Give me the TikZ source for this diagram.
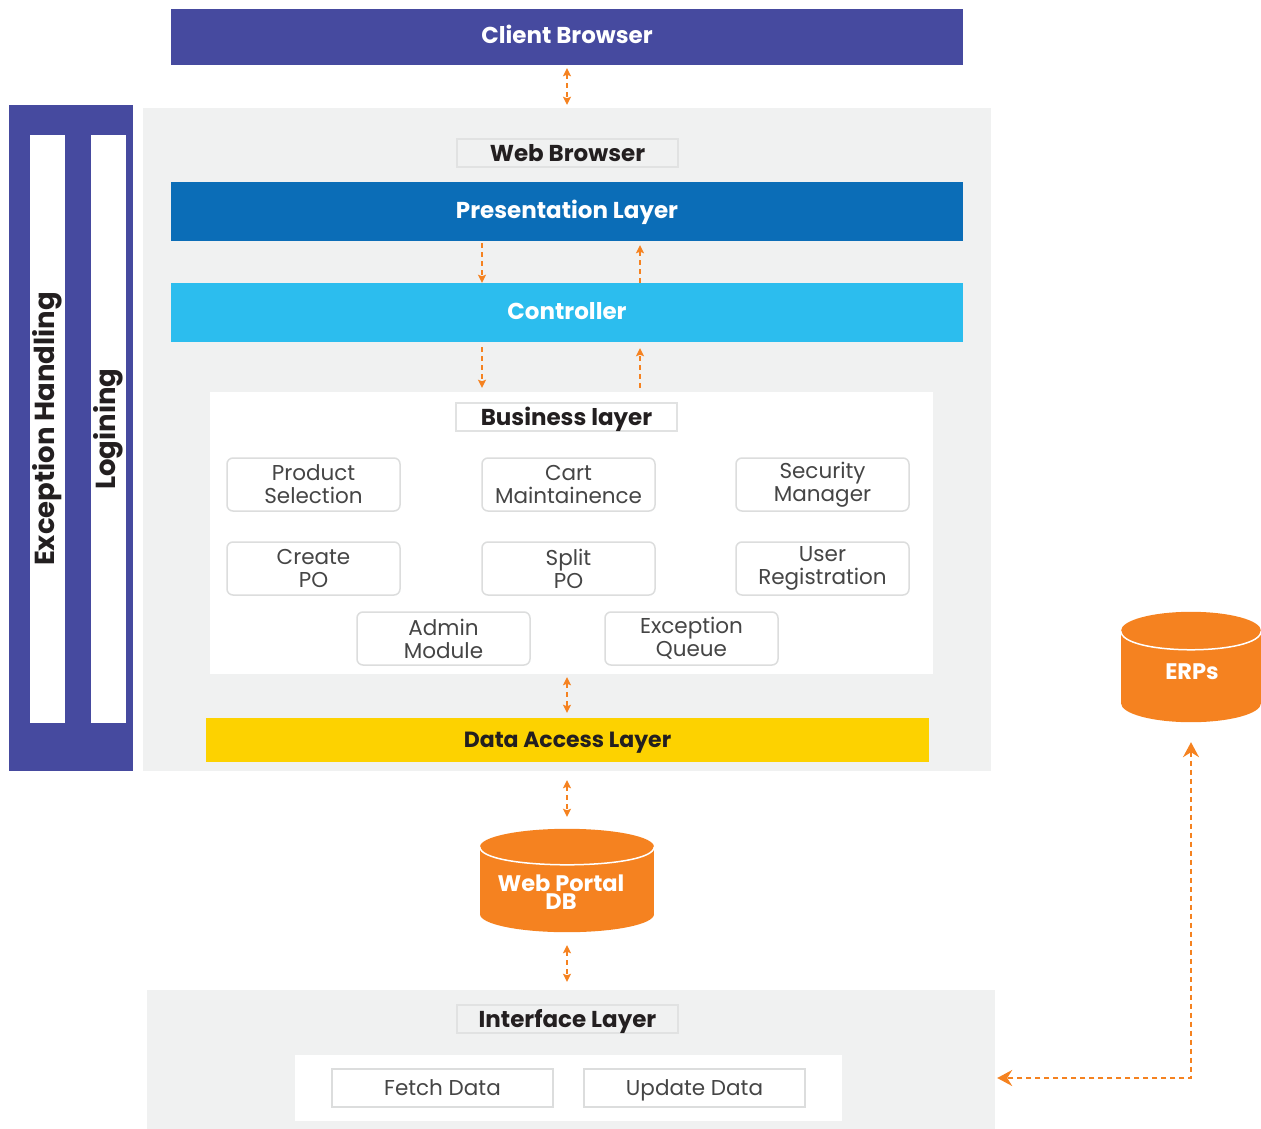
\documentclass[tikz,border=0pt]{standalone}
\usepackage{fontspec}
\setmainfont{Poppins}
\usetikzlibrary{arrows.meta,calc}
\definecolor{indigo}{HTML}{464A9F}
\definecolor{presblue}{HTML}{0B6DB7}
\definecolor{ctrlblue}{HTML}{2CBDEE}
\definecolor{dalyellow}{HTML}{FDD200}
\definecolor{orangeA}{HTML}{F58220}
\definecolor{panelgray}{HTML}{F0F1F1}
\definecolor{lblborder}{HTML}{E1E2E2}
\definecolor{modborder}{HTML}{DCDDDD}
\definecolor{textdark}{HTML}{231F20}
\definecolor{modtext}{HTML}{454545}
\begin{document}
\begin{tikzpicture}[x=1pt,y=-1pt,
  band/.style={rectangle, inner sep=0pt, font=\bfseries\fontsize{23}{24}\selectfont, text=white, text height=13.5pt, text depth=0pt},
  panel/.style={rectangle, inner sep=0pt, fill=panelgray},
  lbl/.style={rectangle, draw=lblborder, line width=1.5pt, inner sep=0pt, minimum width=221pt, minimum height=28pt, font=\bfseries\fontsize{23}{24}\selectfont, text=textdark, text height=16pt, text depth=0pt},
  mod/.style={rectangle, rounded corners=6pt, draw=modborder, line width=1.5pt, fill=white, minimum width=173pt, minimum height=53pt, inner sep=0pt, align=center, font=\fontsize{21.5}{23}\selectfont, text=modtext},
  iface/.style={rectangle, draw=modborder, line width=1.5pt, fill=white, minimum width=221pt, minimum height=38pt, inner sep=0pt, font=\fontsize{21.5}{24}\selectfont, text=modtext, text height=15pt, text depth=0pt},
  dsh/.style={draw=orangeA, line width=1.8pt, dash pattern=on 5pt off 4pt},
  dbl/.style={dsh, {Stealth[width=8pt,length=8pt,inset=1.5pt]}-{Stealth[width=8pt,length=8pt,inset=1.5pt]}},
  sgl/.style={dsh, -{Stealth[width=8pt,length=8pt,inset=1.5pt]}},
  bigdbl/.style={dsh, {Stealth[width=16pt,length=15pt,inset=5pt]}-{Stealth[width=16pt,length=15pt,inset=5pt]}}
]
\useasboundingbox (0,0) rectangle (1261,1129);

% client
\node[band, fill=indigo, minimum width=792pt, minimum height=56pt] (client) at (567,37) {Client Browser};

% left side
\node[rectangle, fill=indigo, minimum width=124pt, minimum height=666pt, inner sep=0pt] (side) at (71,438) {};
\node[rectangle, fill=white, minimum width=35pt, minimum height=588pt, inner sep=0pt] (bar1) at (47.5,429) {};
\node[rectangle, fill=white, minimum width=35pt, minimum height=588pt, inner sep=0pt] (bar2) at (108.5,429) {};
\node[rotate=90, font=\bfseries\fontsize{27.5}{28}\selectfont, text=textdark] (exc) at (47,429) {Exception Handling};
\node[rotate=90, font=\bfseries\fontsize{27.5}{28}\selectfont, text=textdark] (log) at (108,429) {Logining};

% main gray panel
\node[panel, minimum width=848pt, minimum height=663pt] (gray) at (567,439.5) {};
\node[lbl, fill=panelgray] (web) at (567.5,153) {Web Browser};
\node[band, fill=presblue, minimum width=792pt, minimum height=59pt] (pres) at (567,211.5) {Presentation Layer};
\node[band, fill=ctrlblue, minimum width=792pt, minimum height=59pt] (ctrl) at (567,312.5) {Controller};

% business
\node[rectangle, fill=white, minimum width=723pt, minimum height=282pt, inner sep=0pt] (biz) at (571.5,533) {};
\node[lbl, fill=white] (bizl) at (566.5,417) {Business layer};
\node[mod] (m1) at (313.5,484.5) {Product\\Selection};
\node[mod] (m2) at (568.5,484.5) {Cart\\Maintainence};
\node[mod] (m3) at (822.5,484.5) {Security\\Manager};
\node[mod] (m4) at (313.5,568.5) {Create\\PO};
\node[mod] (m5) at (568.5,568.5) {Split\\PO};
\node[mod] (m6) at (822.5,568.5) {User\\Registration};
\node[mod] (m7) at (443.5,638.5) {Admin\\Module};
\node[mod] (m8) at (691.5,638.5) {Exception\\Queue};

% data access
\node[band, fill=dalyellow, text=textdark, minimum width=723pt, minimum height=44pt, font=\bfseries\fontsize{22}{24}\selectfont, text height=15pt] (dal) at (567.5,740) {Data Access Layer};

% DB cylinder
\node[rectangle, minimum width=174pt, minimum height=103pt, inner sep=0pt] (db) at (567,880.5) {};
\fill[orangeA] ($(db.north west)+(0,18)$) rectangle ($(db.south east)+(0,-18)$);
\fill[orangeA] ($(db.north)+(0,18)$) ellipse [x radius=87pt, y radius=18pt];
\fill[orangeA] ($(db.south)+(0,-18)$) ellipse [x radius=87pt, y radius=18pt];
\draw[white, line width=1.5pt] ($(db.north west)+(0,18)$) .. controls +(0,24) and +(0,24) .. ($(db.north east)+(0,18)$);
\node[font=\bfseries\fontsize{22.5}{18.5}\selectfont, text=white, align=center] (dbt) at (561,892) {Web Portal\\DB};

% ERPs cylinder
\node[rectangle, minimum width=140pt, minimum height=110pt, inner sep=0pt] (erp) at (1191,667) {};
\fill[orangeA] ($(erp.north west)+(0,19)$) rectangle ($(erp.south east)+(0,-19)$);
\fill[orangeA] ($(erp.north)+(0,19)$) ellipse [x radius=70pt, y radius=19pt];
\fill[orangeA] ($(erp.south)+(0,-19)$) ellipse [x radius=70pt, y radius=19pt];
\draw[white, line width=1.5pt] ($(erp.north west)+(0,19)$) .. controls +(0,25.3) and +(0,25.3) .. ($(erp.north east)+(0,19)$);
\node[font=\bfseries\fontsize{22.5}{24}\selectfont, text=white] (erpt) at (1192,672) {ERPs};

% interface
\node[panel, minimum width=848pt, minimum height=140pt] (ifp) at (571,1060) {};
\node[lbl, fill=panelgray] (ifl) at (567.5,1019) {Interface Layer};
\node[rectangle, fill=white, minimum width=547pt, minimum height=66pt, inner sep=0pt] (ifw) at (568.5,1088) {};
\node[iface] (fetch) at (442.5,1088) {Fetch Data};
\node[iface] (upd) at (694.5,1088) {Update Data};

% connectors
\coordinate (xL) at (482,0);
\coordinate (xR) at (640,0);
\coordinate (xM) at (567,0);
\coordinate (turn) at (1191,1078);
\draw[dbl, shorten <=3pt, shorten >=3pt] (client.south) -- (gray.north);
\draw[sgl, shorten <=2pt] (pres.south -| xL) -- (ctrl.north -| xL);
\draw[sgl, shorten >=4pt] (ctrl.north -| xR) -- (pres.south -| xR);
\draw[sgl, shorten <=5pt, shorten >=4pt] (ctrl.south -| xL) -- (biz.north -| xL);
\draw[sgl, shorten <=4pt, shorten >=6pt] (biz.north -| xR) -- (ctrl.south -| xR);
\draw[dbl, shorten <=3pt, shorten >=5pt] (biz.south -| xM) -- (dal.north -| xM);
\draw[dbl, shorten <=9pt, shorten >=12pt] (gray.south -| xM) -- (db.north -| xM);
\draw[dbl, shorten <=13pt, shorten >=8pt] (db.south -| xM) -- (ifp.north -| xM);
\draw[bigdbl, shorten <=20pt, shorten >=2pt] (erp.south) -- (turn) -- (ifp.east |- turn);
\end{tikzpicture}
\end{document}
